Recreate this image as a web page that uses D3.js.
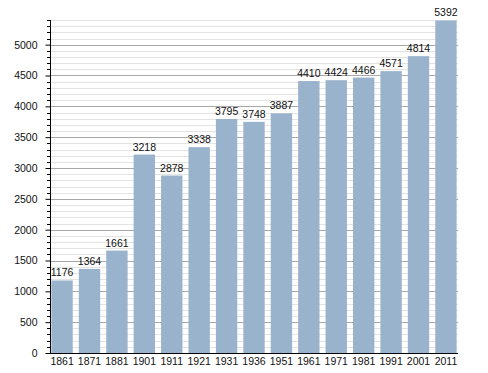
<!DOCTYPE html>
<html><head><meta charset="utf-8">
<script src="https://cdn.jsdelivr.net/npm/d3@7"></script>
<style>body{margin:0;background:#fff}svg{display:block}text{font-family:"Liberation Sans",Arial,sans-serif}</style>
</head><body>
<script>
const years = ["1861","1871","1881","1901","1911","1921","1931","1936","1951","1961","1971","1981","1991","2001","2011"];
const population = [1176,1364,1661,3218,2878,3338,3795,3748,3887,4410,4424,4466,4571,4814,5392];
const majorTicks = [0,500,1000,1500,2000,2500,3000,3500,4000,4500,5000];

(function(){
const W = 488, H = 373;
const mLeft = 50, mRight = 458, mTop = 20, mBottom = 353;
const svg = d3.select("body").append("svg").attr("width", W).attr("height", H);

const x = d3.scaleBand().domain(years).range([mLeft, mRight]).paddingInner(0.22).paddingOuter(0.05);
const y = d3.scaleLinear().domain([0, 5400]).range([mBottom, mTop]);

const minorTicks = d3.range(0, 5401, 100).filter(v => v % 500 !== 0);

svg.append("g").selectAll("line").data(minorTicks).join("line")
  .attr("x1", mLeft).attr("x2", mRight)
  .attr("y1", d => Math.round(y(d)) + 0.5).attr("y2", d => Math.round(y(d)) + 0.5)
  .attr("stroke", "#e3e3e3").attr("stroke-width", 1);
svg.append("g").selectAll("line").data(majorTicks.filter(d => d > 0)).join("line")
  .attr("x1", mLeft).attr("x2", mRight)
  .attr("y1", d => Math.round(y(d)) + 0.5).attr("y2", d => Math.round(y(d)) + 0.5)
  .attr("stroke", "#a8a8a8").attr("stroke-width", 1);

svg.append("g").selectAll("rect").data(population).join("rect")
  .attr("x", (d, i) => x(years[i]))
  .attr("width", x.bandwidth())
  .attr("y", d => y(d))
  .attr("height", d => mBottom - y(d))
  .attr("fill", "#9ab3cd");

svg.append("g").selectAll("text").data(population).join("text")
  .attr("x", (d, i) => x(years[i]) + x.bandwidth() / 2)
  .attr("y", d => y(d) - 4)
  .attr("text-anchor", "middle")
  .attr("font-size", "10.5px").attr("fill", "#111")
  .text(d => d);

const yAxis = svg.append("g").attr("transform", `translate(${mLeft + 0.5},0)`)
  .call(d3.axisLeft(y).tickValues(majorTicks).tickSize(5).tickPadding(8).tickFormat(d3.format("d")));
yAxis.select(".domain").remove();
yAxis.selectAll("text").attr("font-size", "10.5px").attr("fill", "#111").attr("font-family", "Liberation Sans, Arial, sans-serif");
yAxis.selectAll("line").attr("stroke", "#000");
svg.append("g").selectAll("line").data(minorTicks).join("line")
  .attr("x1", mLeft - 3).attr("x2", mLeft)
  .attr("y1", d => Math.round(y(d)) + 0.5).attr("y2", d => Math.round(y(d)) + 0.5)
  .attr("stroke", "#000");
svg.append("line").attr("x1", mLeft + 0.5).attr("x2", mLeft + 0.5).attr("y1", mTop).attr("y2", mBottom + 0.5).attr("stroke", "#000");

const xAxis = svg.append("g").attr("transform", `translate(0,${mBottom + 0.5})`)
  .call(d3.axisBottom(x).tickSize(0).tickPadding(4));
xAxis.select(".domain").remove();
xAxis.selectAll("text").attr("font-size", "10.5px").attr("fill", "#111").attr("font-family", "Liberation Sans, Arial, sans-serif");
svg.append("line").attr("x1", mLeft).attr("x2", mRight).attr("y1", mBottom + 0.5).attr("y2", mBottom + 0.5).attr("stroke", "#000");
})();
</script>
</body></html>
